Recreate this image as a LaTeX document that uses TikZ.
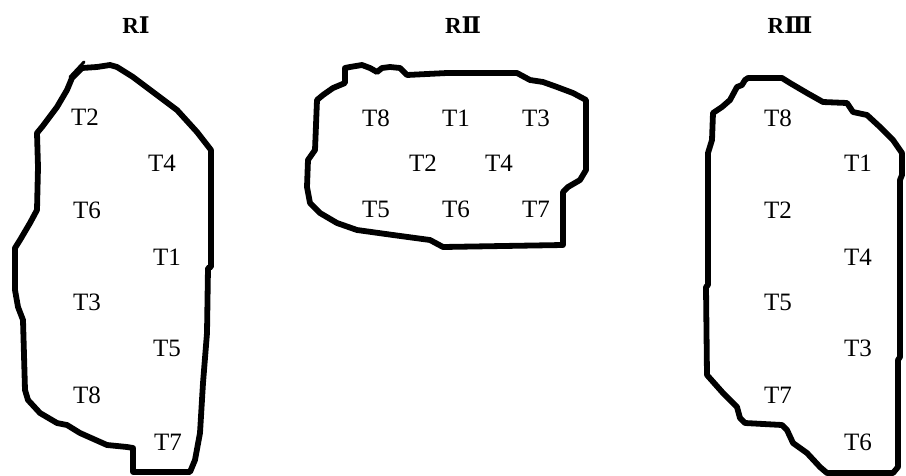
\documentclass[tikz,border=0pt]{standalone}
\usepackage{fontspec}
\setmainfont{Liberation Serif}
\newfontfamily\numfont{DejaVu Serif}
\begin{document}
\begin{tikzpicture}[x=1pt,y=-1pt,
  region/.style={line width=5.8pt,line join=round,line cap=round},
  lbl/.style={font=\fontsize{25}{25}\selectfont,inner sep=0pt},
  hdr/.style={font=\fontsize{23}{23}\selectfont\bfseries,inner sep=0pt}]
\useasboundingbox (0,0) rectangle (906,475);

% headers
\node[hdr] (hI)   at (136,25) {R{\numfont Ⅰ}};
\node[hdr] (hII)  at (463,25) {R{\numfont Ⅱ}};
\node[hdr] (hIII) at (790,25) {R{\numfont Ⅲ}};

% region I
\draw[region] (97,67) -- (110,65) -- (117,67) -- (133,77) -- (153,92) -- (177,110) -- (197,132) -- (211,150) -- (211,267) -- (208,268) -- (207,333) -- (203,383) -- (200,433) -- (195,460) -- (190,472) -- (133,472) -- (133,448) -- (127,447) -- (107,445) -- (80,433) -- (67,425) -- (57,423) -- (40,413) -- (28,400) -- (25,390) -- (23,320) -- (18,307) -- (15,290) -- (15,248) -- (20,240) -- (30,223) -- (37,210) -- (38,167) -- (37,133) -- (42,127) -- (57,107) -- (67,90) -- (72,78) -- (82,68) -- cycle;
\draw[line width=3pt,line cap=round] (84,62) -- (70,77);

\node[lbl] (a2) at (85,117) {T2};
\node[lbl] (a4) at (162,163) {T4};
\node[lbl] (a6) at (87,210) {T6};
\node[lbl] (a1) at (167,257) {T1};
\node[lbl] (a3) at (87,302) {T3};
\node[lbl] (a5) at (167,348) {T5};
\node[lbl] (a8) at (87,395) {T8};
\node[lbl] (a7) at (168,442) {T7};

% region II
\draw[region] (345,68) -- (350,67) -- (362,65) -- (370,68) -- (377,72) -- (382,68) -- (390,67) -- (400,68) -- (407,75) -- (447,73) -- (517,73) -- (530,80) -- (543,82) -- (557,87) -- (573,93) -- (586,100) -- (586,170) -- (580,180) -- (568,187) -- (563,192) -- (563,245) -- (443,247) -- (430,240) -- (393,235) -- (357,230) -- (337,223) -- (320,213) -- (310,203) -- (307,187) -- (308,160) -- (315,150) -- (317,100) -- (323,95) -- (333,88) -- (345,83) -- cycle;

\node[lbl] (b8) at (376,118) {T8};
\node[lbl] (b1) at (456,118) {T1};
\node[lbl] (b3) at (536,118) {T3};
\node[lbl] (b2) at (423,163) {T2};
\node[lbl] (b4) at (499,163) {T4};
\node[lbl] (b5) at (376,209) {T5};
\node[lbl] (b6) at (456,209) {T6};
\node[lbl] (b7) at (536,209) {T7};

% region III
\draw[region] (745,80) -- (748,78) -- (782,78) -- (790,83) -- (807,93) -- (823,102) -- (847,103) -- (853,112) -- (867,115) -- (880,127) -- (893,140) -- (902,153) -- (902,175) -- (900,180) -- (900,357) -- (898,360) -- (898,467) -- (893,473) -- (827,473) -- (820,467) -- (807,453) -- (793,443) -- (787,430) -- (782,425) -- (745,423) -- (740,418) -- (737,407) -- (723,393) -- (707,375) -- (706,287) -- (708,285) -- (708,153) -- (712,140) -- (713,113) -- (722,107) -- (730,100) -- (737,87) -- (742,85) -- cycle;

\node[lbl] (c8) at (778,118) {T8};
\node[lbl] (c1) at (858,163) {T1};
\node[lbl] (c2) at (778,210) {T2};
\node[lbl] (c4) at (858,257) {T4};
\node[lbl] (c5) at (778,302) {T5};
\node[lbl] (c3) at (858,348) {T3};
\node[lbl] (c7) at (778,395) {T7};
\node[lbl] (c6) at (858,442) {T6};
\end{tikzpicture}
\end{document}
